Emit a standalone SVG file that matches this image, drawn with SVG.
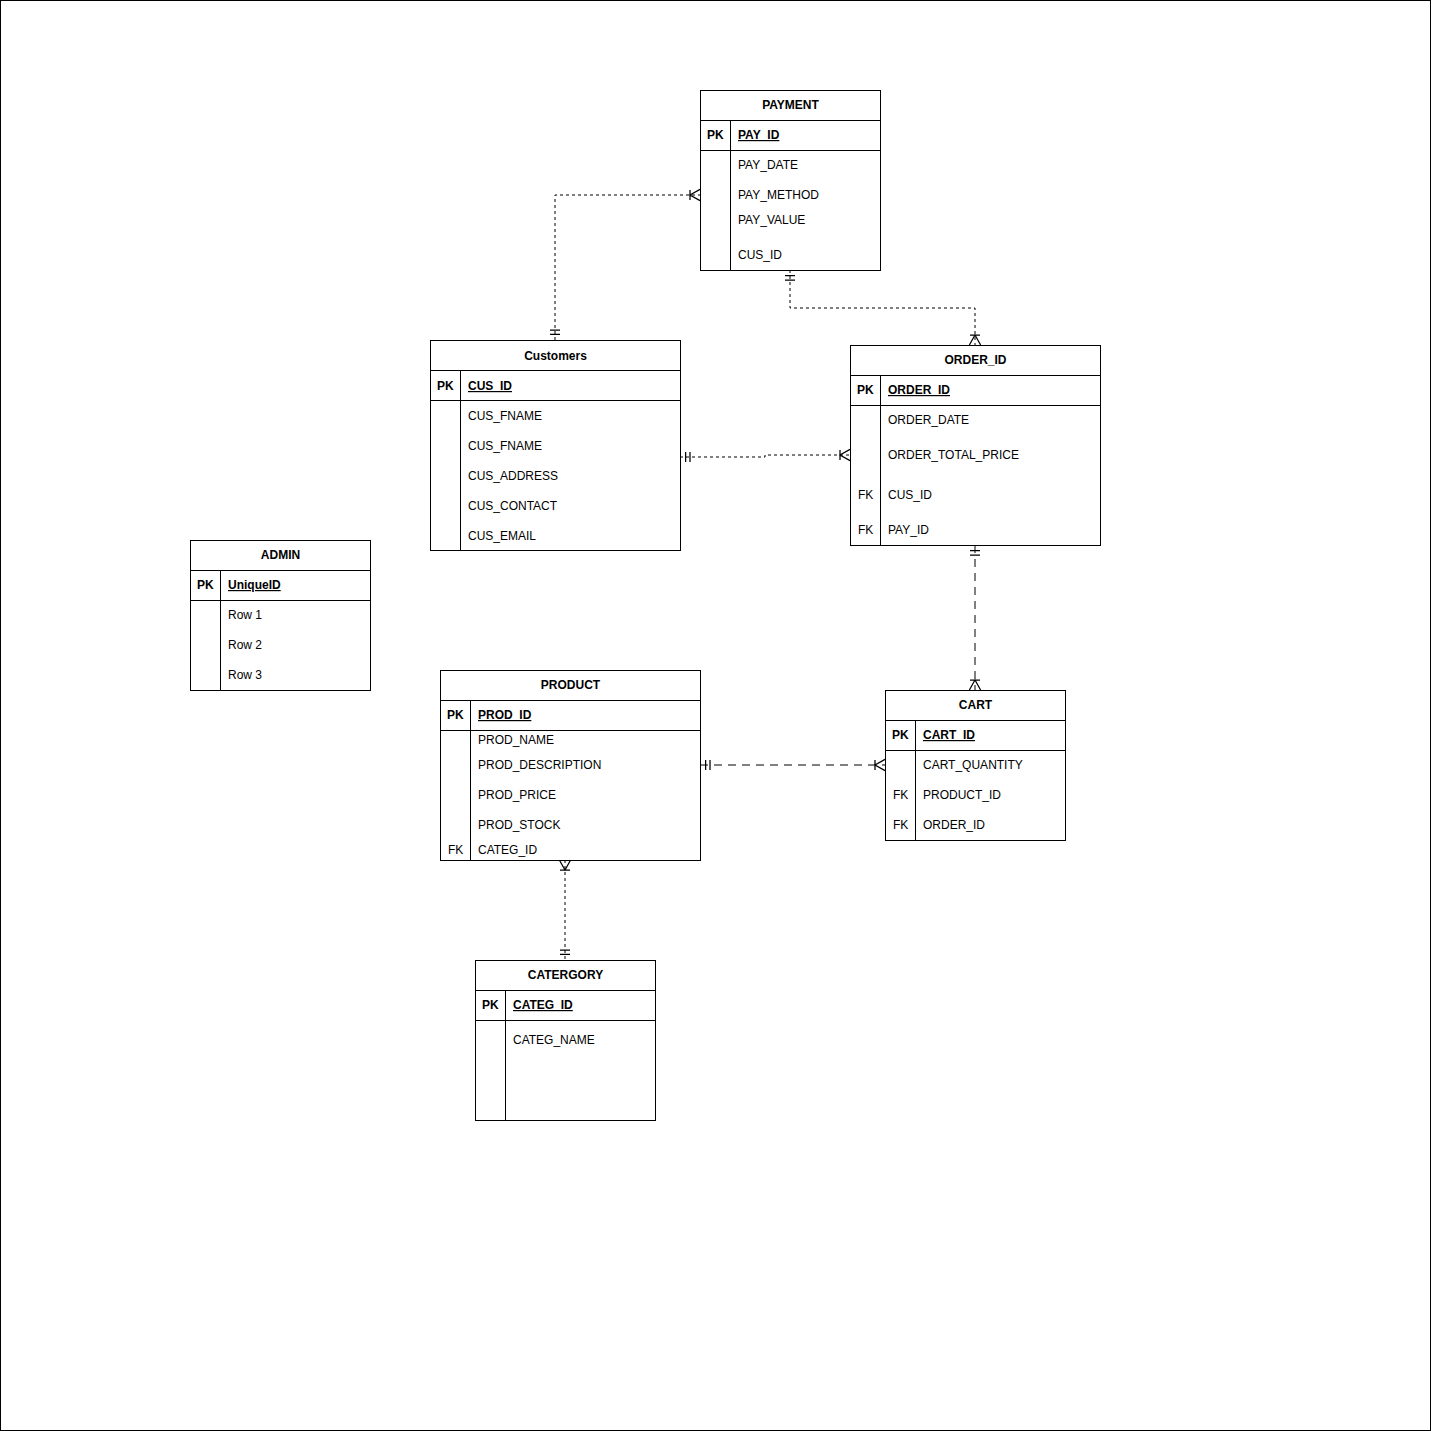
<svg xmlns="http://www.w3.org/2000/svg" width="1431" height="1431" viewBox="0 0 1431 1431">
<style>
.box{fill:#fff;stroke:#000;stroke-width:1}
.ln{fill:none;stroke:#000;stroke-width:1}
text{font-family:"Liberation Sans",Arial,sans-serif;font-size:12px;fill:#000}
.h{font-weight:bold;text-anchor:middle}
.pk{font-weight:bold}
.pkf{font-weight:bold;text-decoration:underline}
.c{fill:none;stroke:#000;stroke-width:1}
.s{stroke-dasharray:3 3}
.l{stroke-dasharray:8 6}
</style>
<defs>
<marker id="one" markerUnits="userSpaceOnUse" markerWidth="20" markerHeight="20" refX="0" refY="0" viewBox="-12 -8 14 16" orient="auto-start-reverse" overflow="visible">
<path d="M-4.5,-4V4M-8,-4V4" fill="none" stroke="#000" stroke-width="1"/>
</marker>
<marker id="many" markerUnits="userSpaceOnUse" markerWidth="20" markerHeight="20" refX="0" refY="0" viewBox="-12 -8 14 16" orient="auto-start-reverse" overflow="visible">
<path d="M0,-4.5L-8,0L0,4.5M-8,-4V4" fill="none" stroke="#000" stroke-width="1"/>
</marker>
</defs>
<rect x="0.5" y="0.5" width="1430" height="1430" fill="#fff" stroke="#000"/>

<g id="connectors">
<path class="c s" d="M555,340V195H700" marker-start="url(#one)" marker-end="url(#many)"/>
<path class="c s" d="M790,270V308H975V345" marker-start="url(#one)" marker-end="url(#many)"/>
<path class="c s" d="M680,457H765V455H850" marker-start="url(#one)" marker-end="url(#many)"/>
<path class="c l" d="M975,545V690" marker-start="url(#one)" marker-end="url(#many)"/>
<path class="c l" d="M700,765H885" marker-start="url(#one)" marker-end="url(#many)"/>
<path class="c s" d="M565,860V960" marker-start="url(#many)" marker-end="url(#one)"/>
</g>

<g id="payment">
<rect class="box" x="700.5" y="90.5" width="180" height="180"/>
<path class="ln" d="M700.5,120.5H880.5M700.5,150.5H880.5M730.5,120.5V270.5"/>
<text class="h" x="790.5" y="109">PAYMENT</text>
<text class="pk" x="707" y="139">PK</text>
<text class="pkf" x="738" y="139">PAY_ID</text>
<text x="738" y="169">PAY_DATE</text>
<text x="738" y="199">PAY_METHOD</text>
<text x="738" y="224">PAY_VALUE</text>
<text x="738" y="259">CUS_ID</text>
</g>

<g id="customers">
<rect class="box" x="430.5" y="340.5" width="250" height="210"/>
<path class="ln" d="M430.5,370.5H680.5M430.5,400.5H680.5M460.5,370.5V550.5"/>
<text class="h" x="555.5" y="360">Customers</text>
<text class="pk" x="437" y="390">PK</text>
<text class="pkf" x="468" y="390">CUS_ID</text>
<text x="468" y="420">CUS_FNAME</text>
<text x="468" y="450">CUS_FNAME</text>
<text x="468" y="480">CUS_ADDRESS</text>
<text x="468" y="510">CUS_CONTACT</text>
<text x="468" y="540">CUS_EMAIL</text>
</g>

<g id="order">
<rect class="box" x="850.5" y="345.5" width="250" height="200"/>
<path class="ln" d="M850.5,375.5H1100.5M850.5,405.5H1100.5M880.5,375.5V545.5"/>
<text class="h" x="975.5" y="364">ORDER_ID</text>
<text class="pk" x="857" y="394">PK</text>
<text class="pkf" x="888" y="394">ORDER_ID</text>
<text x="888" y="424">ORDER_DATE</text>
<text x="888" y="459">ORDER_TOTAL_PRICE</text>
<text x="858" y="499">FK</text>
<text x="888" y="499">CUS_ID</text>
<text x="858" y="534">FK</text>
<text x="888" y="534">PAY_ID</text>
</g>

<g id="admin">
<rect class="box" x="190.5" y="540.5" width="180" height="150"/>
<path class="ln" d="M190.5,570.5H370.5M190.5,600.5H370.5M220.5,570.5V690.5"/>
<text class="h" x="280.5" y="559">ADMIN</text>
<text class="pk" x="197" y="589">PK</text>
<text class="pkf" x="228" y="589">UniqueID</text>
<text x="228" y="619">Row 1</text>
<text x="228" y="649">Row 2</text>
<text x="228" y="679">Row 3</text>
</g>

<g id="product">
<rect class="box" x="440.5" y="670.5" width="260" height="190"/>
<path class="ln" d="M440.5,700.5H700.5M440.5,730.5H700.5M470.5,700.5V860.5"/>
<text class="h" x="570.5" y="689">PRODUCT</text>
<text class="pk" x="447" y="719">PK</text>
<text class="pkf" x="478" y="719">PROD_ID</text>
<text x="478" y="744">PROD_NAME</text>
<text x="478" y="769">PROD_DESCRIPTION</text>
<text x="478" y="799">PROD_PRICE</text>
<text x="478" y="829">PROD_STOCK</text>
<text x="448" y="854">FK</text>
<text x="478" y="854">CATEG_ID</text>
</g>

<g id="cart">
<rect class="box" x="885.5" y="690.5" width="180" height="150"/>
<path class="ln" d="M885.5,720.5H1065.5M885.5,750.5H1065.5M915.5,720.5V840.5"/>
<text class="h" x="975.5" y="709">CART</text>
<text class="pk" x="892" y="739">PK</text>
<text class="pkf" x="923" y="739">CART_ID</text>
<text x="923" y="769">CART_QUANTITY</text>
<text x="893" y="799">FK</text>
<text x="923" y="799">PRODUCT_ID</text>
<text x="893" y="829">FK</text>
<text x="923" y="829">ORDER_ID</text>
</g>

<g id="category">
<rect class="box" x="475.5" y="960.5" width="180" height="160"/>
<path class="ln" d="M475.5,990.5H655.5M475.5,1020.5H655.5M505.5,990.5V1120.5"/>
<text class="h" x="565.5" y="979">CATERGORY</text>
<text class="pk" x="482" y="1009">PK</text>
<text class="pkf" x="513" y="1009">CATEG_ID</text>
<text x="513" y="1044">CATEG_NAME</text>
</g>
</svg>
